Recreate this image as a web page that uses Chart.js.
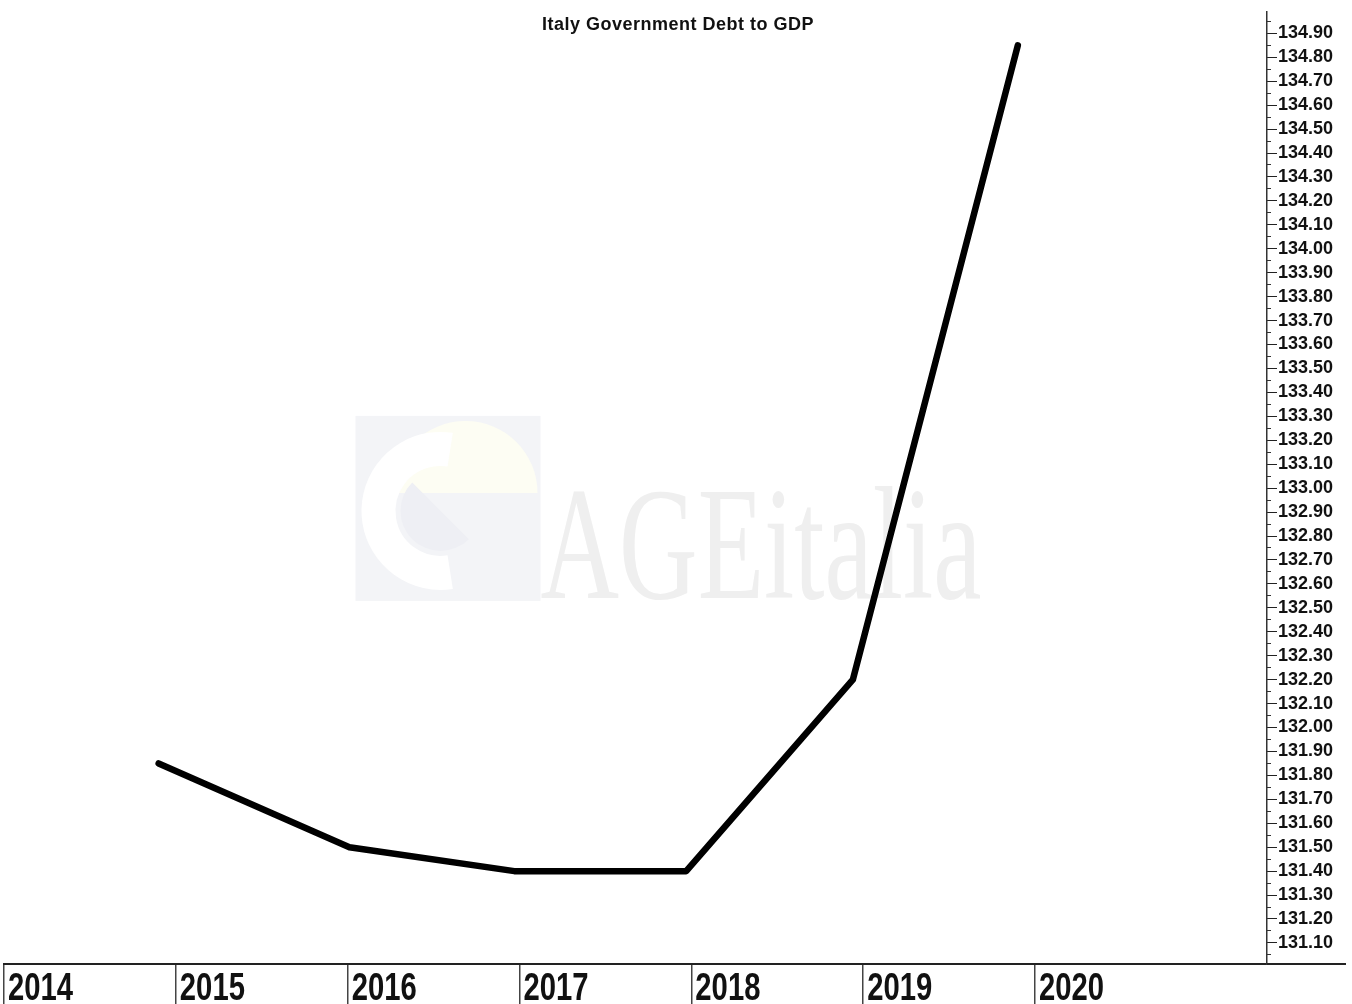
<!DOCTYPE html>
<html>
<head>
<meta charset="utf-8">
<script src="https://cdn.jsdelivr.net/npm/chart.js@4.4.0/dist/chart.umd.min.js"></script>
<style>
html, body { margin: 0; padding: 0; background: #fff; }
#wrap { width: 1352px; height: 1004px; }
</style>
</head>
<body>
<div id="wrap"><canvas id="debt"></canvas></div>
<script>
// ---- values ----
var chartTitle = 'Italy Government Debt to GDP';
var pointYears = [2014.9, 2016.01, 2016.97, 2017.97, 2018.94, 2019.9];
var debtValues = [131.85, 131.50, 131.40, 131.40, 132.20, 134.85];
var yearTicks = [2014, 2015, 2016, 2017, 2018, 2019, 2020];
var yRange = [131.012, 134.99];
var xRange = [2014, 2021.35];

var points = pointYears.map(function (x, i) { return { x: x, y: debtValues[i] }; });

// title, faint watermark, narrow year labels and the base line under the price axis
var decor = {
    id: 'decor',
    beforeDatasetsDraw: function (chart) {
        var ctx = chart.ctx, a = chart.chartArea;
        var cx = (a.left + a.right) / 2, cy = (a.top + a.bottom) / 2;
        ctx.save();
        // logo block
        ctx.fillStyle = '#f3f4f7';
        ctx.fillRect(cx - 280, cy - 72, 185, 185);
        ctx.fillStyle = '#fdfdf3';
        ctx.beginPath();
        ctx.arc(cx - 170, cy + 5, 72, Math.PI, 0);
        ctx.fill();
        ctx.strokeStyle = '#ffffff';
        ctx.lineWidth = 34;
        ctx.beginPath();
        ctx.arc(cx - 195, cy + 23, 62, Math.PI * 0.45, Math.PI * 1.55);
        ctx.stroke();
        ctx.fillStyle = '#eeeff4';
        ctx.beginPath();
        ctx.arc(cx - 195, cy + 23, 40, Math.PI * 0.25, Math.PI * 1.25);
        ctx.fill();
        // lettering
        ctx.translate(cx - 95, cy + 110);
        ctx.scale(0.68, 1);
        ctx.fillStyle = '#efefef';
        ctx.font = '160px "Liberation Serif", serif';
        ctx.fillText('AGEitalia', 0, 0);
        ctx.restore();
    },
    afterDraw: function (chart) {
        var ctx = chart.ctx, a = chart.chartArea, xs = chart.scales.x;
        ctx.save();
        ctx.fillStyle = '#111';
        ctx.font = 'bold 18px "Liberation Sans", Arial, sans-serif';
        ctx.letterSpacing = '0.5px';
        ctx.textAlign = 'center';
        ctx.textBaseline = 'middle';
        ctx.fillText(chartTitle, chart.width / 2 + 2, 25);
        ctx.letterSpacing = '0px';

        ctx.strokeStyle = '#222';
        ctx.lineWidth = 2;
        ctx.beginPath();
        ctx.moveTo(a.right, a.bottom);
        ctx.lineTo(chart.width - 6, a.bottom);
        ctx.stroke();

        ctx.font = 'bold 38px "Liberation Sans", Arial, sans-serif';
        ctx.textAlign = 'left';
        ctx.textBaseline = 'alphabetic';
        yearTicks.forEach(function (yr) {
            var px = xs.getPixelForValue(yr) + 4;
            ctx.save();
            ctx.translate(px, a.bottom + 36);
            ctx.scale(0.77, 1);
            ctx.fillText(String(yr), 0, 0);
            ctx.restore();
        });
        ctx.restore();
    }
};

var ctx = document.getElementById('debt').getContext('2d');
var chart = new Chart(ctx, {
    type: 'line',
    data: {
        datasets: [{
            label: chartTitle,
            data: points,
            borderColor: '#000',
            borderWidth: 6.5,
            borderCapStyle: 'round',
            borderJoinStyle: 'round',
            pointRadius: 0,
            tension: 0,
            fill: false
        }]
    },
    options: {
        responsive: true,
        maintainAspectRatio: false,
        animation: false,
        layout: { padding: { top: 10, left: 4, right: 0, bottom: 0 } },
        plugins: {
            legend: { display: false },
            title: { display: false },
            tooltip: { enabled: false }
        },
        scales: {
            x: {
                type: 'linear',
                min: xRange[0],
                max: xRange[1],
                afterBuildTicks: function (scale) {
                    scale.ticks = yearTicks.map(function (v) { return { value: v }; });
                },
                afterFit: function (scale) { scale.height = 40; },
                border: { display: true, color: '#222', width: 2 },
                grid: { drawOnChartArea: false, tickLength: 40, color: '#444', lineWidth: 1.5 },
                ticks: { display: false }
            },
            yMinor: {
                position: 'right',
                weight: -1,
                min: yRange[0],
                max: yRange[1],
                afterFit: function (scale) { scale.width = 0; },
                border: { display: false },
                grid: { drawOnChartArea: false, tickLength: 4, color: '#333' },
                ticks: { display: false, stepSize: 0.05, autoSkip: false, includeBounds: false }
            },
            y: {
                position: 'right',
                min: yRange[0],
                max: yRange[1],
                afterFit: function (scale) { scale.width = 85; },
                border: { display: true, color: '#333', width: 1.5 },
                grid: { drawOnChartArea: false, tickLength: 10, color: '#222' },
                ticks: {
                    stepSize: 0.1,
                    includeBounds: false,
                    autoSkip: false,
                    padding: 1,
                    color: '#111',
                    font: { family: '"Liberation Sans", Arial, sans-serif', size: 18, weight: 'bold' },
                    callback: function (v) { return v.toFixed(2); }
                }
            }
        }
    },
    plugins: [decor]
});
</script>
</body>
</html>
